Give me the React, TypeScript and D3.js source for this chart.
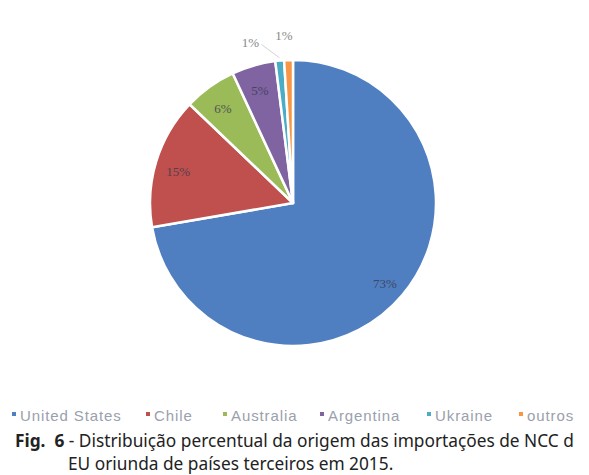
import React, { useRef, useEffect } from 'react';
import * as d3 from 'd3';

const countries = ['United States', 'Chile', 'Australia', 'Argentina', 'Ukraine', 'outros'];
const shares = [73, 15, 6, 5, 1, 1];
const sliceColors = ['#4f7fc0', '#c0504d', '#9bbb59', '#8064a2', '#4bacc6', '#f79646'];

const captionBold = 'Fig.  6';
const captionLine1 = ' - Distribuição percentual da origem das importações de NCC d';
const captionLine2 = 'EU oriunda de países terceiros em 2015.';

interface Slice {
    name: string;
    value: number;
    color: string;
}

const slices: Slice[] = countries.map((name, i) => ({
    name,
    value: shares[i],
    color: sliceColors[i],
}));

const PieChart: React.FC<{ width?: number; height?: number }> = ({ width = 589, height = 475 }) => {
    const ref = useRef<SVGSVGElement | null>(null);

    useEffect(() => {
        const svg = d3.select(ref.current).attr('width', width).attr('height', height);
        svg.selectAll('*').remove();

        svg.append('rect').attr('width', width).attr('height', height).attr('fill', '#ffffff');

        const cx = 293;
        const cy = 203;
        const radius = 143;

        const pie = d3
            .pie<Slice>()
            .sort(null)
            .value((d) => d.value);
        const arcs = pie(slices);

        const arc = d3.arc<d3.PieArcDatum<Slice>>().innerRadius(0).outerRadius(radius);
        const labelArc = d3
            .arc<d3.PieArcDatum<Slice>>()
            .innerRadius(radius * 0.84)
            .outerRadius(radius * 0.84);
        const outerArc = d3
            .arc<d3.PieArcDatum<Slice>>()
            .innerRadius(radius * 1.17)
            .outerRadius(radius * 1.17);
        const edgeArc = d3
            .arc<d3.PieArcDatum<Slice>>()
            .innerRadius(radius * 1.02)
            .outerRadius(radius * 1.02);

        const chart = svg.append('g').attr('transform', `translate(${cx}, ${cy})`);

        chart
            .selectAll('path')
            .data(arcs)
            .join('path')
            .attr('d', arc)
            .attr('fill', (d) => d.data.color)
            .attr('stroke', '#ffffff')
            .attr('stroke-width', 2.5)
            .attr('stroke-linejoin', 'round');

        // small slices get their label outside, the first one pushed to the left
        const isSmall = (d: d3.PieArcDatum<Slice>) => d.data.value < 2;
        const shiftX = (d: d3.PieArcDatum<Slice>) => (d.data.name === 'Ukraine' ? -27 : -4);
        const shiftY = (d: d3.PieArcDatum<Slice>) => (d.data.name === 'Ukraine' ? 6 : 0);

        // leader line for the shifted label
        arcs.filter((d) => d.data.name === 'Ukraine').forEach((d) => {
            const [ex, ey] = edgeArc.centroid(d);
            const [lx, ly] = outerArc.centroid(d);
            chart
                .append('path')
                .attr('d', `M${ex},${ey}L${lx + shiftX(d) + 11},${ly + shiftY(d) + 2}`)
                .attr('stroke', '#c8c8c8')
                .attr('stroke-width', 0.8)
                .attr('fill', 'none');
        });

        chart
            .selectAll('text.pct')
            .data(arcs)
            .join('text')
            .attr('class', 'pct')
            .attr('x', (d) => (isSmall(d) ? outerArc.centroid(d)[0] + shiftX(d) : labelArc.centroid(d)[0]))
            .attr('y', (d) => (isSmall(d) ? outerArc.centroid(d)[1] + shiftY(d) : labelArc.centroid(d)[1] + 3))
            .attr('text-anchor', 'middle')
            .attr('dominant-baseline', 'central')
            .style('font-family', '"Liberation Serif", serif')
            .style('font-size', '13px')
            .attr('fill', (d) => (isSmall(d) ? '#6a6a6a' : '#3a3a52'))
            .attr('opacity', 0.8)
            .text((d) => `${d.data.value}%`);

        // Legend
        const legendX = [14, 148, 225, 322, 429, 521];
        const legend = svg.append('g').attr('transform', 'translate(0, 414)');
        slices.forEach((s, i) => {
            const g = legend.append('g').attr('transform', `translate(${legendX[i]}, 0)`);
            g.append('rect')
                .attr('x', -2)
                .attr('y', -2)
                .attr('width', 4)
                .attr('height', 4)
                .attr('fill', s.color);
            g.append('text')
                .attr('x', 6)
                .attr('y', 1)
                .attr('dominant-baseline', 'central')
                .style('font-family', '"Liberation Sans", sans-serif')
                .style('font-size', '15px')
                .style('letter-spacing', '0.9px')
                .attr('fill', '#9aa0ad')
                .text(s.name);
        });

        // Caption
        const caption = svg
            .append('text')
            .attr('x', 15)
            .attr('y', 447)
            .style('font-family', '"Noto Sans", sans-serif')
            .style('font-size', '17.3px')
            .style('white-space', 'pre')
            .attr('fill', '#222222');
        caption.append('tspan').style('font-weight', 'bold').text(captionBold);
        caption.append('tspan').text(captionLine1);

        svg.append('text')
            .attr('x', 68)
            .attr('y', 470)
            .style('font-family', '"Noto Sans", sans-serif')
            .style('font-size', '17.3px')
            .attr('fill', '#222222')
            .text(captionLine2);
    }, [width, height]);

    return <svg ref={ref} style={{ position: 'absolute', left: 0, top: 0, display: 'block' }}></svg>;
};

export default function App() {
    return <PieChart />;
}
